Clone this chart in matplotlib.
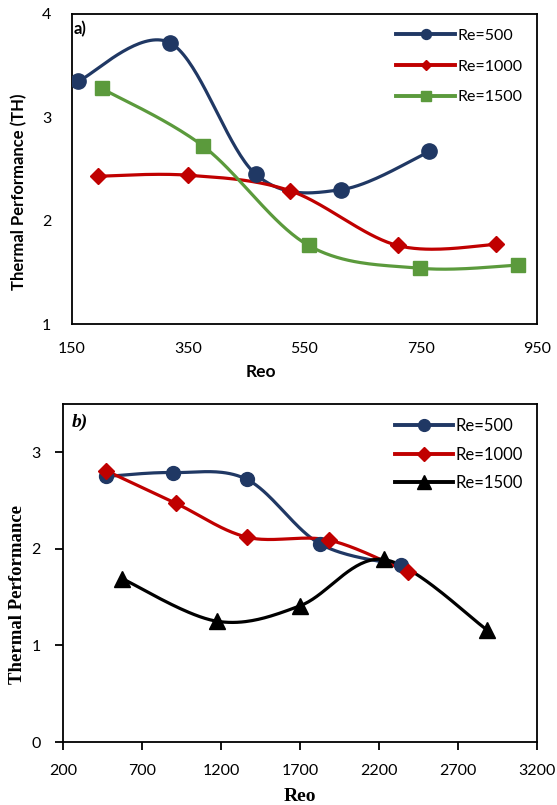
import numpy as np
import matplotlib
matplotlib.use("Agg")
import matplotlib.pyplot as plt
from matplotlib.lines import Line2D

# ---- Data: panel a ----
a_labels = ["Re=500", "Re=1000", "Re=1500"]
a_x500 = [161, 319, 466, 613, 765]
a_y500 = [3.35, 3.72, 2.45, 2.30, 2.67]
a_x1000 = [194, 349, 525, 710, 880]
a_y1000 = [2.43, 2.44, 2.29, 1.76, 1.77]
a_x1500 = [201, 376, 557, 748, 918]
a_y1500 = [3.28, 2.72, 1.76, 1.54, 1.57]
a_xticks = [150, 350, 550, 750, 950]
a_yticks = [1, 2, 3, 4]

# ---- Data: panel b ----
b_labels = ["Re=500", "Re=1000", "Re=1500"]
b_x500 = [474, 897, 1363, 1828, 2341]
b_y500 = [2.75, 2.79, 2.72, 2.05, 1.83]
b_x1000 = [472, 917, 1367, 1884, 2382]
b_y1000 = [2.81, 2.47, 2.12, 2.09, 1.76]
b_x1500 = [576, 1176, 1700, 2229, 2885]
b_y1500 = [1.69, 1.25, 1.41, 1.89, 1.16]
b_xticks = [200, 700, 1200, 1700, 2200, 2700, 3200]
b_yticks = [0, 1, 2, 3]

NAVY = "#203864"
RED = "#C00000"
GREEN = "#5B9A3C"
BLACK = "#000000"

SANS = ["Lato", "DejaVu Sans"]
SERIF = ["Liberation Serif", "DejaVu Serif"]

W, H = 557, 805


def smooth(x, y, n=40):
    """Excel-style smoothed line via cubic Bezier segments."""
    x = np.asarray(x, float); y = np.asarray(y, float)
    P = np.column_stack([x, y])
    pts = []
    m = len(P)
    for i in range(m - 1):
        p0 = P[i - 1] if i > 0 else P[i]
        p1 = P[i]
        p2 = P[i + 1]
        p3 = P[i + 2] if i + 2 < m else P[i + 1]
        c1 = p1 + (p2 - p0) / 6.0
        c2 = p2 - (p3 - p1) / 6.0
        t = np.linspace(0, 1, n)[:, None]
        seg = ((1 - t) ** 3) * p1 + 3 * ((1 - t) ** 2) * t * c1 + 3 * (1 - t) * t ** 2 * c2 + t ** 3 * p2
        pts.append(seg if i == 0 else seg[1:])
    s = np.vstack(pts)
    return s[:, 0], s[:, 1]


fig = plt.figure(figsize=(W / 100, H / 100), dpi=100)

# ---------------- Panel a ----------------
axa = fig.add_axes([72 / W, 1 - 324 / H, 465 / W, 310 / H])
series_a = [(a_x500, a_y500, NAVY, "o", 11),
            (a_x1000, a_y1000, RED, "D", 8.5),
            (a_x1500, a_y1500, GREEN, "s", 10)]
handles = []
for (xs, ys, c, mk, ms), lab in zip(series_a, a_labels):
    sx, sy = smooth(xs, ys)
    axa.plot(sx, sy, color=c, lw=2.3, zorder=2, solid_capstyle="round")
    axa.plot(xs, ys, ls="none", marker=mk, ms=ms, color=c, zorder=3)
    handles.append(Line2D([], [], color=c, lw=2.8, marker=mk, ms=ms * 0.65, label=lab))
axa.set_xlim(150, 950)
axa.set_ylim(1, 4)
axa.set_xticks(a_xticks)
axa.set_yticks(a_yticks)
axa.tick_params(length=0, labelsize=11.5)
axa.tick_params(axis="y", pad=15)
axa.tick_params(axis="x", pad=13)
for lbl in axa.get_xticklabels() + axa.get_yticklabels():
    lbl.set_family(SANS)
for sp in axa.spines.values():
    sp.set_linewidth(1.3)
fig.text(19 / W, 1 - 192 / H, "Thermal Performance (TH)", rotation=90, fontsize=12,
         fontweight="bold", family=SANS, ha="center", va="center")
fig.text(261 / W, 1 - 372 / H, "Reo", fontsize=12.5, fontweight="bold", family=SANS,
         ha="center", va="center")
fig.text(74 / W, 1 - 29 / H, "a)", fontsize=12, fontweight="bold",
         family=SANS, ha="left", va="center")
axa.legend(handles=handles, loc="upper right", bbox_to_anchor=(1.0, 1.0), frameon=False,
           prop={"family": SANS, "size": 11.5}, handlelength=3.7, handletextpad=0.15,
           labelspacing=1.05, borderaxespad=0.5)

# ---------------- Panel b ----------------
axb = fig.add_axes([63 / W, 1 - 742 / H, 474 / W, 338 / H])
series_b = [(b_x500, b_y500, NAVY, "o", 10),
            (b_x1000, b_y1000, RED, "D", 8.5),
            (b_x1500, b_y1500, BLACK, "^", 11.5)]
handles_b = []
for (xs, ys, c, mk, ms), lab in zip(series_b, b_labels):
    sx, sy = smooth(xs, ys)
    axb.plot(sx, sy, color=c, lw=2.3, zorder=2, solid_capstyle="round")
    axb.plot(xs, ys, ls="none", marker=mk, ms=ms, color=c, zorder=3)
    handles_b.append(Line2D([], [], color=c, lw=2.8, marker=mk, ms=ms * 0.85, label=lab))
axb.set_xlim(200, 3200)
axb.set_ylim(0, 3.5)
axb.set_xticks(b_xticks)
axb.set_yticks(b_yticks)
axb.tick_params(direction="out", length=6, width=1.3, labelsize=11.5)
axb.tick_params(axis="y", pad=10)
axb.tick_params(axis="x", pad=10)
for lbl in axb.get_xticklabels() + axb.get_yticklabels():
    lbl.set_family(SANS)
for sp in axb.spines.values():
    sp.set_linewidth(1.3)
fig.text(18 / W, 1 - 595 / H, "Thermal Performance", rotation=90, fontsize=13.5,
         fontweight="bold", family=SERIF, ha="center", va="center")
fig.text(300 / W, 1 - 796 / H, "Reo", fontsize=14, fontweight="bold", family=SERIF,
         ha="center", va="center")
fig.text(72 / W, 1 - 422 / H, "b)", fontsize=14, fontweight="bold",
         fontstyle="italic", family=SERIF, ha="left", va="center")
axb.legend(handles=handles_b, loc="upper right", bbox_to_anchor=(1.0, 1.0), frameon=False,
           prop={"family": SANS, "size": 12}, handlelength=3.5, handletextpad=0.15,
           labelspacing=0.75, borderaxespad=0.45)

fig.savefig("out.png", dpi=100)
